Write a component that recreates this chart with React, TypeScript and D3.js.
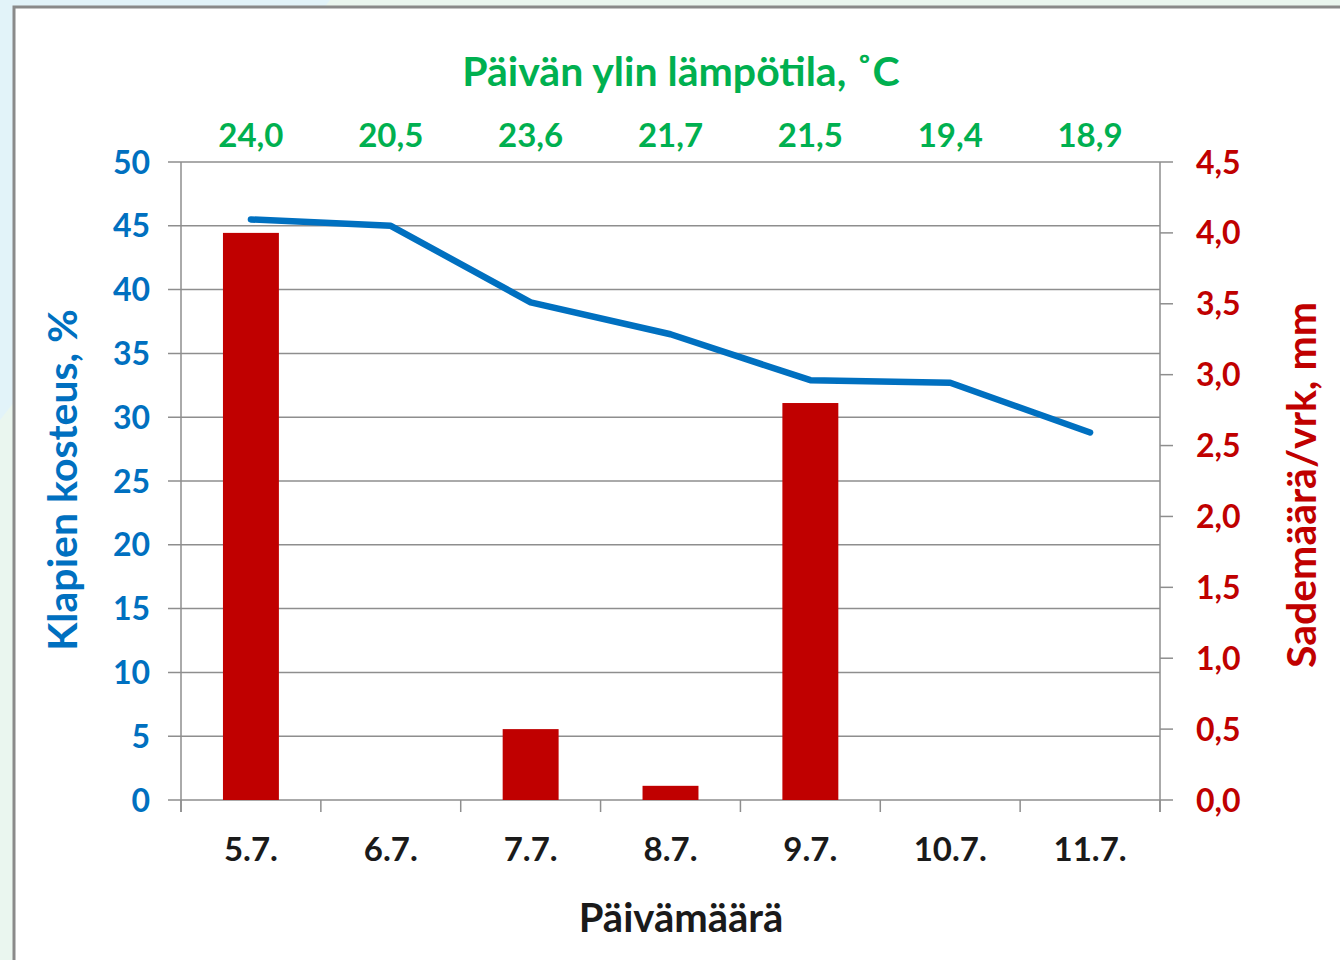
import React, { useEffect, useRef } from 'react';
import * as d3 from 'd3';

const dates = ['5.7.', '6.7.', '7.7.', '8.7.', '9.7.', '10.7.', '11.7.'];
const moisture = [45.5, 45.0, 39.0, 36.5, 32.9, 32.7, 28.8];
const rain = [4.0, 0, 0.5, 0.1, 2.8, 0, 0];
const maxTemp = ['24,0', '20,5', '23,6', '21,7', '21,5', '19,4', '18,9'];
const leftTicks = [0, 5, 10, 15, 20, 25, 30, 35, 40, 45, 50];
const rightTicks = [0, 0.5, 1, 1.5, 2, 2.5, 3, 3.5, 4, 4.5];

const BLUE = '#0070C0';
const RED = '#C00000';
const GREEN = '#00B050';
const GRID = '#8e8e8e';
const FONT = 'Lato, "Open Sans", sans-serif';

const App = () => {
  const svgRef = useRef<SVGSVGElement>(null);

  useEffect(() => {
    document.body.style.margin = '0';
    const svg = d3.select(svgRef.current);
    svg.selectAll('*').remove();

    const W = 1340;
    const H = 960;
    const margin = { top: 162, right: 180, bottom: 160, left: 181 };
    const width = W - margin.left - margin.right;
    const height = H - margin.top - margin.bottom;

    // page background and frame
    svg.append('rect').attr('width', W).attr('height', H).attr('fill', '#eaf6ef');
    svg.append('path').attr('d', 'M0,0 L330,0 L0,420 Z').attr('fill', '#e2f3f9');
    svg.append('rect').attr('x', 14).attr('y', 7).attr('width', W).attr('height', H)
      .attr('fill', '#fff').attr('stroke', '#8a8a8a').attr('stroke-width', 3);

    const g = svg.append('g').attr('transform', `translate(${margin.left},${margin.top})`);

    const x = d3.scaleBand().domain(dates).range([0, width]).paddingInner(0.6).paddingOuter(0.3);
    const xc = d3.scaleBand().domain(dates).range([0, width]);
    const yL = d3.scaleLinear().domain([0, 50]).range([height, 0]);
    const yR = d3.scaleLinear().domain([0, 4.5]).range([height, 0]);

    // gridlines
    g.selectAll('.grid').data(leftTicks).enter().append('line')
      .attr('x1', -13).attr('x2', width)
      .attr('y1', (d) => yL(d)).attr('y2', (d) => yL(d))
      .attr('stroke', GRID).attr('stroke-width', 1.5);

    // left axis line
    g.append('line').attr('x1', 0).attr('x2', 0).attr('y1', 0).attr('y2', height + 12)
      .attr('stroke', GRID).attr('stroke-width', 1.5);
    // right axis line + ticks
    g.append('line').attr('x1', width).attr('x2', width).attr('y1', 0).attr('y2', height + 12)
      .attr('stroke', GRID).attr('stroke-width', 1.5);
    g.selectAll('.rtick').data(rightTicks).enter().append('line')
      .attr('x1', width).attr('x2', width + 13)
      .attr('y1', (d) => yR(d)).attr('y2', (d) => yR(d))
      .attr('stroke', GRID).attr('stroke-width', 1.5);
    // x category ticks
    const bounds = dates.map((d) => xc(d) as number).concat([width]);
    g.selectAll('.xtick').data(bounds).enter().append('line')
      .attr('x1', (d) => d).attr('x2', (d) => d)
      .attr('y1', height).attr('y2', height + 12)
      .attr('stroke', GRID).attr('stroke-width', 1.5);

    // bars
    g.selectAll('.bar').data(dates).enter().append('rect')
      .attr('x', (d) => x(d) as number)
      .attr('width', x.bandwidth())
      .attr('y', (d, i) => yR(rain[i]))
      .attr('height', (d, i) => height - yR(rain[i]))
      .attr('fill', RED);

    // line
    const line = d3.line<number>()
      .x((d, i) => (xc(dates[i]) as number) + xc.bandwidth() / 2)
      .y((d) => yL(d));
    g.append('path').datum(moisture).attr('d', line)
      .attr('fill', 'none').attr('stroke', BLUE).attr('stroke-width', 6.5)
      .attr('stroke-linecap', 'round').attr('stroke-linejoin', 'round');

    // left tick labels
    g.selectAll('.ltl').data(leftTicks).enter().append('text')
      .attr('x', -31).attr('y', (d) => yL(d)).attr('dy', '0.36em')
      .attr('text-anchor', 'end').attr('fill', BLUE)
      .style('font', `bold 32px ${FONT}`).text((d) => d);

    // right tick labels
    g.selectAll('.rtl').data(rightTicks).enter().append('text')
      .attr('x', width + 36).attr('y', (d) => yR(d)).attr('dy', '0.36em')
      .attr('fill', RED)
      .style('font', `bold 32px ${FONT}`).text((d) => d3.format('.1f')(d).replace('.', ','));

    // x labels
    g.selectAll('.xl').data(dates).enter().append('text')
      .attr('x', (d) => (xc(d) as number) + xc.bandwidth() / 2).attr('y', height + 49).attr('dy', '0.36em')
      .attr('text-anchor', 'middle').attr('fill', '#1a1a1a')
      .style('font', `bold 33px ${FONT}`).text((d) => d);

    // temperature labels on top
    g.selectAll('.tl').data(maxTemp).enter().append('text')
      .attr('x', (d, i) => (xc(dates[i]) as number) + xc.bandwidth() / 2).attr('y', -27).attr('dy', '0.36em')
      .attr('text-anchor', 'middle').attr('fill', GREEN)
      .style('font', `bold 33px ${FONT}`).text((d) => d);

    // titles
    svg.append('text').attr('x', 681).attr('y', 71).attr('dy', '0.36em')
      .attr('text-anchor', 'middle').attr('fill', GREEN)
      .style('font', `bold 41px ${FONT}`).text('Päivän ylin lämpötila, ˚C');
    svg.append('text').attr('x', 681).attr('y', 918).attr('dy', '0.36em')
      .attr('text-anchor', 'middle').attr('fill', '#1a1a1a')
      .style('font', `bold 40px ${FONT}`).text('Päivämäärä');
    svg.append('text').attr('transform', 'translate(62,480) rotate(-90)').attr('dy', '0.36em')
      .attr('text-anchor', 'middle').attr('fill', BLUE)
      .style('font', `bold 41px ${FONT}`).text('Klapien kosteus, %');
    svg.append('text').attr('transform', 'translate(1301,485) rotate(-90)').attr('dy', '0.36em')
      .attr('text-anchor', 'middle').attr('fill', RED)
      .style('font', `bold 41px ${FONT}`).text('Sademäärä/vrk, mm');
  }, []);

  return <svg ref={svgRef} width={1340} height={960} style={{ display: 'block' }} />;
};

export default App;
